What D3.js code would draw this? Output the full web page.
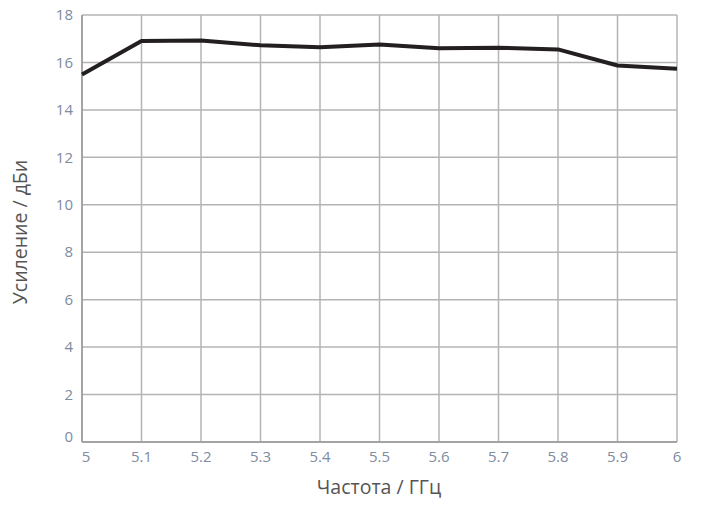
<!DOCTYPE html>
<html><head><meta charset="utf-8">
<script src="https://cdn.jsdelivr.net/npm/d3@7"></script>
<style>body{margin:0;background:#fff}svg{display:block}</style>
</head><body><svg id="c" width="708" height="505"></svg>
<script>
const freqs = [5.0, 5.1, 5.2, 5.3, 5.4, 5.5, 5.6, 5.7, 5.8, 5.9, 6.0];
const gain = [15.49, 16.9, 16.93, 16.72, 16.64, 16.76, 16.6, 16.62, 16.55, 15.87, 15.73];
const xTicks = [5, 5.1, 5.2, 5.3, 5.4, 5.5, 5.6, 5.7, 5.8, 5.9, 6];
const yTicks = [0, 2, 4, 6, 8, 10, 12, 14, 16, 18];
const xTitle = "Частота / ГГц";
const yTitle = "Усиление / дБи";

const svg = d3.select("#c");
const L = 82, R = 677, T = 15, B = 442;
const x = d3.scaleLinear().domain([5, 6]).range([L, R]);
const y = d3.scaleLinear().domain([0, 18]).range([B, T]);
const font = "'Open Sans', 'Noto Sans', sans-serif";
const tickColor = "#7e8ba0";

// gridlines
svg.append("g").selectAll("line").data(xTicks).join("line")
  .attr("x1", d => x(d)).attr("x2", d => x(d)).attr("y1", T).attr("y2", B)
  .attr("stroke", "#b4b4b4").attr("stroke-width", 1.5);
svg.append("g").selectAll("line").data(yTicks).join("line")
  .attr("x1", L).attr("x2", R).attr("y1", d => y(d)).attr("y2", d => y(d))
  .attr("stroke", "#b4b4b4").attr("stroke-width", 1.5);
// axis borders
svg.append("line").attr("x1", L).attr("x2", L).attr("y1", T).attr("y2", B).attr("stroke", "#999").attr("stroke-width", 1.5);
svg.append("line").attr("x1", L).attr("x2", R).attr("y1", B).attr("y2", B).attr("stroke", "#999").attr("stroke-width", 1.5);

// y tick labels
svg.append("g").selectAll("text").data(yTicks).join("text")
  .attr("x", 73).attr("y", d => y(d) + (d === 0 ? -5 : 0)).attr("dy", "0.35em")
  .attr("text-anchor", "end").attr("font-family", font).attr("font-size", 15)
  .attr("fill", tickColor).text(d => d);
// x tick labels
svg.append("g").selectAll("text").data(xTicks).join("text")
  .attr("x", (d, i) => i === 0 ? x(d) + 4 : x(d)).attr("y", 462)
  .attr("text-anchor", "middle").attr("font-family", font).attr("font-size", 15)
  .attr("fill", tickColor).text(d => d);

// titles
svg.append("text").attr("x", 379).attr("y", 494).attr("text-anchor", "middle")
  .attr("font-family", font).attr("font-size", 19.5).attr("fill", "#555").text(xTitle);
svg.append("text").attr("transform", "translate(27,232) rotate(-90)").attr("text-anchor", "middle")
  .attr("font-family", font).attr("font-size", 19.5).attr("fill", "#555").text(yTitle);

// line
const line = d3.line().x((d, i) => x(freqs[i])).y(d => y(d));
svg.append("path").datum(gain).attr("d", line).attr("fill", "none")
  .attr("stroke", "#231f20").attr("stroke-width", 4).attr("stroke-linejoin", "round");
</script></body></html>
